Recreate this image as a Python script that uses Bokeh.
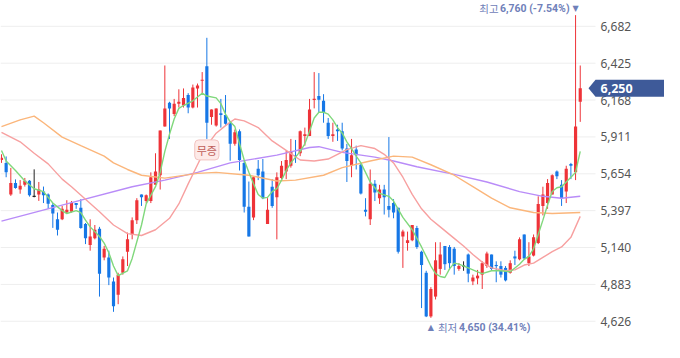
from bokeh.plotting import figure
from bokeh.models import Label, Range1d, ColumnDataSource
from bokeh.core.properties import value
from bokeh.embed import file_html
from bokeh.resources import INLINE

# ---------------- data ----------------
opens = [5750, 5730, 5510, 5590, 5545, 5577, 5605, 5497, 5510, 5530,
         5510, 5437, 5337, 5337, 5384, 5390, 5450, 5417, 5304, 5157,
         5204, 5271, 5071, 5071, 4904, 4811, 4964, 5111, 5231, 5331,
         5510, 5464, 5464, 5577, 5644, 5983, 6150, 6070, 6143, 6130,
         6203, 6116, 6249, 6303, 6403, 6050, 5990, 6076, 6063, 6010,
         5863, 5950, 5730, 5424, 5350, 5690, 5670, 5304, 5564, 5490,
         5624, 5670, 5710, 5783, 5797, 5917, 5917, 6170, 6196, 6163,
         6010, 5917, 5963, 5950, 5830, 5710, 5823, 5717, 5404, 5337,
         5584, 5484, 5544, 5430, 5450, 5417, 5217, 5171, 5191, 5277,
         5111, 4964, 4660, 4798, 4991, 5151, 5144, 5131, 4991, 5011,
         5091, 4904, 4925, 4951, 5011, 5091, 5018, 5011, 4998, 4964,
         5078, 5058, 5231, 5031, 5084, 5171, 5430, 5450, 5510, 5670,
         5577, 5530, 5723, 5664, 6156]
highs = [5790, 5775, 5695, 5615, 5610, 5625, 5610, 5685, 5597, 5565,
         5517, 5450, 5384, 5430, 5470, 5464, 5450, 5477, 5311, 5337,
         5297, 5284, 5151, 5118, 4931, 4964, 5078, 5244, 5350, 5484,
         5510, 5510, 5664, 5797, 5956, 6409, 6156, 6176, 6243, 6249,
         6216, 6276, 6283, 6363, 6602, 6103, 6110, 6176, 6203, 6016,
         5963, 5963, 5743, 5600, 5630, 5750, 5757, 5484, 5617, 5664,
         5743, 5817, 5897, 5890, 5956, 5976, 6176, 6363, 6356, 6209,
         6043, 6010, 5996, 6010, 5863, 5897, 5850, 5730, 5484, 5684,
         5610, 5577, 5577, 5910, 5477, 5417, 5264, 5251, 5297, 5291,
         5118, 4978, 4864, 5177, 5177, 5151, 5157, 5144, 5031, 5044,
         5098, 4951, 4984, 5044, 5111, 5091, 5044, 5044, 5011, 5051,
         5118, 5211, 5231, 5177, 5231, 5497, 5564, 5617, 5650, 5677,
         5610, 5710, 5730, 6760, 6409]
lows = [5730, 5630, 5500, 5550, 5515, 5565, 5495, 5490, 5465, 5450,
        5410, 5277, 5224, 5331, 5377, 5384, 5410, 5271, 5164, 5118,
        5197, 4798, 5051, 4878, 4692, 4745, 4951, 5011, 5197, 5304,
        5430, 5450, 5450, 5577, 5544, 5983, 5897, 6056, 6116, 6116,
        6076, 6110, 6116, 6209, 5897, 5996, 5983, 5976, 5996, 5745,
        5850, 5677, 5384, 5217, 5331, 5610, 5477, 5304, 5417, 5197,
        5617, 5617, 5697, 5730, 5777, 5850, 5917, 6110, 6083, 6010,
        5897, 5877, 5883, 5817, 5597, 5630, 5684, 5510, 5357, 5297,
        5464, 5444, 5370, 5350, 5344, 5098, 4998, 5118, 5184, 5131,
        4718, 4655, 4650, 4778, 4951, 4984, 4984, 4951, 4978, 4978,
        4898, 4878, 4884, 4851, 4998, 4984, 4898, 4931, 4904, 4958,
        5018, 5051, 5058, 5011, 5078, 5164, 5364, 5410, 5510, 5617,
        5430, 5450, 5617, 5610, 6016]
closes = [5765, 5665, 5590, 5555, 5570, 5605, 5505, 5497, 5545, 5505,
          5445, 5377, 5264, 5410, 5404, 5450, 5437, 5277, 5204, 5217,
          5264, 4958, 5131, 4931, 4731, 4951, 5058, 5197, 5331, 5470,
          5490, 5504, 5630, 5670, 5956, 6110, 6110, 6143, 6156, 6183,
          6116, 6256, 6269, 6309, 6010, 6103, 6110, 6063, 6003, 5863,
          5943, 5750, 5424, 5217, 5630, 5644, 5484, 5404, 5430, 5630,
          5710, 5750, 5810, 5777, 5950, 5930, 6103, 6176, 6170, 6083,
          5917, 5930, 5950, 5830, 5743, 5783, 5783, 5517, 5390, 5584,
          5524, 5544, 5490, 5404, 5384, 5111, 5251, 5191, 5297, 5144,
          5018, 4660, 4851, 5051, 5091, 5024, 5031, 5011, 5011, 5011,
          4958, 4931, 4944, 5031, 5098, 4991, 5011, 4951, 4911, 5031,
          5064, 5197, 5064, 5078, 5211, 5444, 5510, 5590, 5644, 5637,
          5484, 5690, 5710, 5983, 6250]

ma5_i = [0, 1, 3, 5, 7, 9, 11, 13, 14, 16, 17, 18, 19, 21, 22, 23, 24, 25, 27, 28,
         30, 31, 33, 34, 35, 36, 37, 38, 39, 41, 43, 44, 46, 47, 48, 49, 50, 51, 52, 53,
         54, 55, 56, 57, 58, 59, 60, 61, 62, 63, 64, 65, 66, 67, 68, 69, 70, 71, 72, 73,
         74, 75, 76, 77, 79, 81, 83, 84, 86, 88, 90, 91, 92, 93, 94, 95, 96, 97, 98, 100,
         102, 103, 105, 107, 109, 111, 112, 113, 114, 115, 116, 117, 118, 119, 120, 121, 122, 123, 124]
ma5_v = [5817, 5743, 5677, 5604, 5550, 5530, 5450, 5397, 5377, 5397, 5384, 5331, 5284, 5217, 5171, 5104, 5011, 4944, 4978, 5064,
         5297, 5444, 5564, 5664, 5810, 5930, 6036, 6110, 6130, 6163, 6216, 6196, 6183, 6143, 6070, 6016, 5983, 5863, 5750, 5664,
         5584, 5510, 5484, 5490, 5530, 5550, 5610, 5677, 5730, 5770, 5810, 5863, 5950, 6043, 6083, 6083, 6070, 6030, 5976, 5937,
         5877, 5830, 5777, 5730, 5597, 5517, 5497, 5464, 5350, 5264, 5144, 5078, 5011, 4958, 4938, 4931, 4991, 5031, 5024, 4998,
         4971, 4958, 4978, 4978, 4971, 5024, 5058, 5078, 5131, 5231, 5331, 5437, 5530, 5557, 5564, 5597, 5630, 5664, 5810]

ma20_i = [0, 4, 7, 10, 13, 15, 18, 21, 24, 27, 30, 33, 36, 38, 40, 42, 44, 46, 48, 50,
          52, 55, 58, 61, 64, 67, 70, 72, 74, 77, 80, 82, 84, 86, 88, 90, 92, 94, 97, 99,
          101, 103, 105, 108, 110, 112, 114, 116, 118, 120, 122, 124]
ma20_v = [5943, 5877, 5797, 5723, 5617, 5564, 5477, 5390, 5297, 5237, 5224, 5264, 5344, 5444, 5584, 5717, 5850, 5937, 5990, 6036,
          6023, 5976, 5883, 5817, 5750, 5743, 5757, 5790, 5823, 5850, 5830, 5790, 5730, 5630, 5510, 5410, 5337, 5284, 5204, 5151,
          5091, 5038, 4998, 4978, 4984, 5018, 5031, 5071, 5111, 5144, 5211, 5357]

ma60_i = [0, 4, 7, 9, 13, 17, 22, 24, 27, 30, 35, 42, 46, 53, 59, 63, 69, 73, 79, 84,
          88, 92, 97, 101, 105, 109, 114, 118, 124]
ma60_v = [5983, 6030, 6056, 6010, 5910, 5850, 5777, 5730, 5684, 5644, 5624, 5657, 5664, 5644, 5604, 5610, 5644, 5697, 5743, 5777,
          5770, 5717, 5644, 5564, 5484, 5417, 5384, 5377, 5384]

ma120_i = [0, 14, 28, 35, 42, 49, 59, 66, 68, 73, 80, 84, 89, 97, 104, 111, 116, 120, 124]
ma120_v = [5324, 5444, 5564, 5610, 5664, 5730, 5784, 5837, 5843, 5803, 5770, 5743, 5703, 5650, 5597, 5530, 5497, 5484, 5497]

y_ticks = [4626, 4883, 5140, 5397, 5654, 5911, 6168, 6425, 6682]
y_tick_labels = ["4,626", "4,883", "5,140", "5,397", "5,654", "5,911", "6,168", "6,425", "6,682"]
event_index = 44
event_text = "무증"

# ---------------- styling ----------------
RED = "#ee3338"
BLUE = "#1677e6"
BLACK = "#222222"
ANNOT = "#6f80b9"
PRICE_BG = "#3e5a99"

W, H = 664, 342
X0 = -0.211                      # left edge of the plotting area (candle index units)
X_PLOT_END = 127.27              # right end of the candle area (where gridlines stop)
PX = (X_PLOT_END - X0) / 595.0   # index units per pixel
X1 = X0 + W * PX                 # right edge of the canvas
Y0, Y1 = 4478, 6862
UPX = (Y1 - Y0) / H              # price units per pixel

n = len(opens)
idx = list(range(n))
colors, btop, bbot = [], [], []
for o, c in zip(opens, closes):
    colors.append(RED if c > o else (BLUE if c < o else BLACK))
    t, b = max(o, c), min(o, c)
    if t - b < 8:
        m = (t + b) / 2.0
        t, b = m + 4, m - 4
    btop.append(t)
    bbot.append(b)

src = ColumnDataSource(dict(x=idx, o=opens, h=highs, l=lows, c=closes,
                            top=btop, bot=bbot, color=colors))

p = figure(width=W, height=H,
           x_range=Range1d(X0, X1), y_range=Range1d(Y0, Y1),
           x_axis_location=None, y_axis_location=None,
           output_backend="svg", toolbar_location=None,
           min_border_left=0, min_border_top=0, min_border_bottom=0, min_border_right=0)
p.outline_line_color = None
p.background_fill_color = "white"
p.border_fill_color = "white"
p.grid.visible = False

# horizontal gridlines over the candle area only
p.segment(x0=[X0] * len(y_ticks), x1=[X_PLOT_END] * len(y_ticks), y0=y_ticks, y1=y_ticks,
          line_color="#eeeeee", line_width=1)

# price scale labels on the right
p.text(x=[X_PLOT_END + 5 * PX] * len(y_ticks), y=y_ticks, text=y_tick_labels,
       text_font=value("Noto Sans"), text_font_size=value("12px"), text_color="#555555",
       text_align="left", text_baseline="middle")

# candles
p.segment(x0="x", y0="l", x1="x", y1="h", line_color="color", line_width=1, source=src)
p.vbar(x="x", width=0.68, top="top", bottom="bot", fill_color="color", line_color=None, source=src)

# moving averages
p.line(ma120_i, ma120_v, line_color="#b98cf8", line_width=1.4)
p.line(ma60_i, ma60_v, line_color="#fbb67b", line_width=1.4)
p.line(ma20_i, ma20_v, line_color="#f7a0a0", line_width=1.4)
p.line(ma5_i, ma5_v, line_color="#80d87c", line_width=1.4)

# high / low annotations
hi_i = highs.index(max(highs))
lo_i = lows.index(min(lows))
last = closes[-1]
hi_pct = (last / highs[hi_i] - 1) * 100
lo_pct = (last / lows[lo_i] - 1) * 100

p.add_layout(Label(x=hi_i, y=highs[hi_i], text="▼", text_align="center", text_baseline="middle",
                   y_offset=7, text_font_size="8px", text_color=ANNOT, text_font="DejaVu Sans"))
p.add_layout(Label(x=hi_i, y=highs[hi_i], text=f"{highs[hi_i]:,} ({hi_pct:.2f}%)",
                   text_align="right", text_baseline="middle", x_offset=-6, y_offset=7,
                   text_font="Roboto", text_font_style="bold", text_font_size="10.5px", text_color=ANNOT))
p.add_layout(Label(x=hi_i, y=highs[hi_i], text="최고", text_align="right", text_baseline="middle",
                   x_offset=-77, y_offset=7, text_font="Noto Sans CJK KR",
                   text_font_size="10.5px", text_color=ANNOT))

p.add_layout(Label(x=lo_i, y=lows[lo_i], text="▲", text_align="center", text_baseline="middle",
                   y_offset=-10, text_font_size="8px", text_color=ANNOT, text_font="DejaVu Sans"))
p.add_layout(Label(x=lo_i, y=lows[lo_i], text="최저", text_align="left", text_baseline="middle",
                   x_offset=7, y_offset=-10, text_font="Noto Sans CJK KR",
                   text_font_size="10.5px", text_color=ANNOT))
p.add_layout(Label(x=lo_i, y=lows[lo_i], text=f"{lows[lo_i]:,} ({lo_pct:.2f}%)",
                   text_align="left", text_baseline="middle", x_offset=28, y_offset=-10,
                   text_font="Roboto", text_font_style="bold", text_font_size="10.5px", text_color=ANNOT))

# event badge
p.add_layout(Label(x=event_index, y=lows[event_index], text=event_text, text_align="center",
                   text_baseline="top", y_offset=-1, text_font="Noto Sans CJK KR",
                   text_font_size="11px", text_color="#c0605a",
                   background_fill_color="#fdeae8", border_line_color="#f2c4c1",
                   border_radius=4, padding=2))

# current price marker (arrow-shaped box on the price scale)
half = 8.5 * UPX
p.patch(x=[X_PLOT_END - 7 * PX, X_PLOT_END, X1, X1, X_PLOT_END],
        y=[last, last + half, last + half, last - half, last - half],
        fill_color=PRICE_BG, line_color=None)
p.text(x=[X_PLOT_END + 5 * PX], y=[last], text=[f"{last:,}"],
       text_font=value("Noto Sans"), text_font_size=value("12.5px"), text_font_style="bold",
       text_color="white", text_align="left", text_baseline="middle")

open("out.html", "w").write(file_html(p, INLINE))
